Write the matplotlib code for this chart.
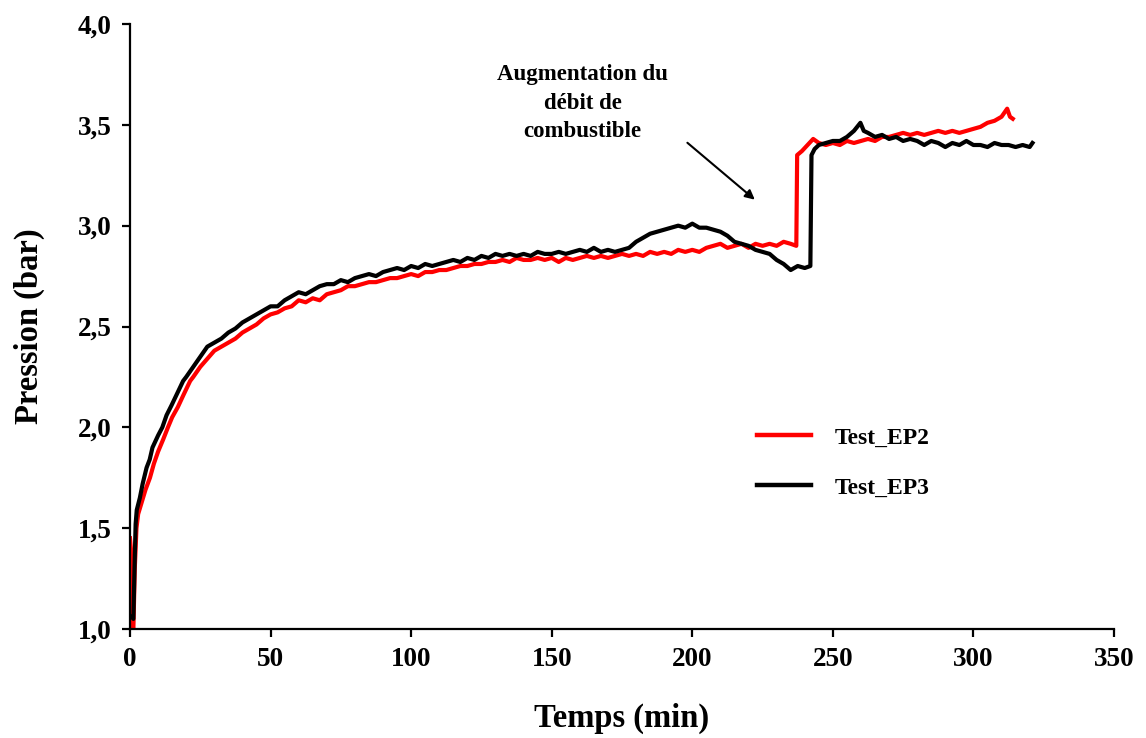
import matplotlib
matplotlib.use("Agg")
import matplotlib.pyplot as plt

# ---- Data ----
t_ep2 = [0.0, 0.3, 0.6, 1.2, 1.7, 2.3, 2.9, 4.0, 5.5, 7.1, 8.5, 10.0, 11.8, 13.5, 15.0, 17.0, 19.0, 21.4,
         22.5, 25.0, 27.5, 30.0, 32.5, 35.0, 37.5, 40.0, 42.5, 45.0, 47.5, 50.0, 52.5, 55.0, 57.5, 60.0,
         62.5, 65.0, 67.5, 70.0, 72.5, 75.0, 77.5, 80.0, 82.5, 85.0, 87.5, 90.0, 92.5, 95.0, 97.5, 100.0,
         102.5, 105.0, 107.5, 110.0, 112.5, 115.0, 117.5, 120.0, 122.5, 125.0, 127.5, 130.0, 132.5, 135.0,
         137.5, 140.0, 142.5, 145.0, 147.5, 150.0, 152.5, 155.0, 157.5, 160.0, 162.5, 165.0, 167.5, 170.0,
         172.5, 175.0, 177.5, 180.0, 182.5, 185.0, 187.5, 190.0, 192.5, 195.0, 197.5, 200.0, 202.5, 205.0,
         207.5, 210.0, 212.5, 215.0, 217.5, 220.0, 222.5, 225.0, 227.5, 230.0, 232.5, 235.0, 237.0, 237.3,
         239.0, 241.0, 243.0, 245.0, 247.5, 250.0, 252.5, 255.0, 257.5, 260.0, 262.5, 265.0, 267.5, 270.0,
         272.5, 275.0, 277.5, 280.0, 282.5, 285.0, 287.5, 290.0, 292.5, 295.0, 297.5, 300.0, 302.5, 305.0,
         307.5, 310.0, 311.0, 312.0, 313.0, 314.0]
p_ep2 = [1.45, 1.40, 1.02, 1.00, 1.30, 1.50, 1.57, 1.62, 1.69, 1.75, 1.82, 1.88, 1.94, 2.00, 2.05, 2.10, 2.16, 2.23,
         2.25, 2.30, 2.34, 2.38, 2.40, 2.42, 2.44, 2.47, 2.49, 2.51, 2.54, 2.56, 2.57, 2.59, 2.60, 2.63,
         2.62, 2.64, 2.63, 2.66, 2.67, 2.68, 2.70, 2.70, 2.71, 2.72, 2.72, 2.73, 2.74, 2.74, 2.75, 2.76,
         2.75, 2.77, 2.77, 2.78, 2.78, 2.79, 2.80, 2.80, 2.81, 2.81, 2.82, 2.82, 2.83, 2.82,
         2.84, 2.83, 2.83, 2.84, 2.83, 2.84, 2.82, 2.84, 2.83, 2.84, 2.85, 2.84, 2.85, 2.84,
         2.85, 2.86, 2.85, 2.86, 2.85, 2.87, 2.86, 2.87, 2.86, 2.88, 2.87, 2.88, 2.87, 2.89,
         2.90, 2.91, 2.89, 2.90, 2.91, 2.89, 2.91, 2.90, 2.91, 2.90, 2.92, 2.91, 2.90, 3.35,
         3.37, 3.40, 3.43, 3.41, 3.40, 3.41, 3.40, 3.42, 3.41, 3.42, 3.43, 3.42, 3.44, 3.44,
         3.45, 3.46, 3.45, 3.46, 3.45, 3.46, 3.47, 3.46, 3.47, 3.46, 3.47, 3.48, 3.49, 3.51,
         3.52, 3.54, 3.56, 3.58, 3.54, 3.53]

t_ep3 = [0.7, 1.2, 1.6, 2.0, 2.4, 3.5, 4.5, 5.9, 7.0, 8.0, 9.0, 10.0, 11.5, 13.0, 14.8, 16.5, 18.9, 20.0,
         22.5, 25.0, 27.5, 30.0, 32.5, 35.0, 37.5, 40.0, 42.5, 45.0, 47.5, 50.0, 52.5, 55.0, 57.5, 60.0,
         62.5, 65.0, 67.5, 70.0, 72.5, 75.0, 77.5, 80.0, 82.5, 85.0, 87.5, 90.0, 92.5, 95.0, 97.5, 100.0,
         102.5, 105.0, 107.5, 110.0, 112.5, 115.0, 117.5, 120.0, 122.5, 125.0, 127.5, 130.0, 132.5, 135.0,
         137.5, 140.0, 142.5, 145.0, 147.5, 150.0, 152.5, 155.0, 157.5, 160.0, 162.5, 165.0, 167.5, 170.0,
         172.5, 175.0, 177.5, 180.0, 182.5, 185.0, 187.5, 190.0, 192.5, 195.0, 197.5, 200.0, 202.5, 205.0,
         207.5, 210.0, 212.5, 215.0, 217.5, 220.0, 222.5, 225.0, 227.5, 230.0, 232.5, 235.0, 237.5, 240.0,
         242.0, 242.4, 243.5, 245.0, 247.5, 250.0, 252.5, 255.0, 257.5, 259.8, 261.0, 262.5, 265.0, 267.5,
         270.0, 272.5, 275.0, 277.5, 280.0, 282.5, 285.0, 287.5, 290.0, 292.5, 295.0, 297.5, 300.0, 302.5,
         305.0, 307.5, 310.0, 312.5, 315.0, 317.5, 320.0, 321.0]
p_ep3 = [1.06, 1.05, 1.30, 1.52, 1.59, 1.65, 1.72, 1.80, 1.84, 1.90, 1.93, 1.96, 2.00, 2.06, 2.11, 2.16, 2.23, 2.25,
         2.30, 2.35, 2.40, 2.42, 2.44, 2.47, 2.49, 2.52, 2.54, 2.56, 2.58, 2.60, 2.60, 2.63, 2.65, 2.67,
         2.66, 2.68, 2.70, 2.71, 2.71, 2.73, 2.72, 2.74, 2.75, 2.76, 2.75, 2.77, 2.78, 2.79, 2.78, 2.80,
         2.79, 2.81, 2.80, 2.81, 2.82, 2.83, 2.82, 2.84, 2.83, 2.85, 2.84, 2.86, 2.85, 2.86,
         2.85, 2.86, 2.85, 2.87, 2.86, 2.86, 2.87, 2.86, 2.87, 2.88, 2.87, 2.89, 2.87, 2.88,
         2.87, 2.88, 2.89, 2.92, 2.94, 2.96, 2.97, 2.98, 2.99, 3.00, 2.99, 3.01, 2.99, 2.99,
         2.98, 2.97, 2.95, 2.92, 2.91, 2.90, 2.88, 2.87, 2.86, 2.83, 2.81, 2.78, 2.80, 2.79,
         2.80, 3.35, 3.38, 3.40, 3.41, 3.42, 3.42, 3.44, 3.47, 3.51, 3.47, 3.46, 3.44, 3.45,
         3.43, 3.44, 3.42, 3.43, 3.42, 3.40, 3.42, 3.41, 3.39, 3.41, 3.40, 3.42, 3.40, 3.40,
         3.39, 3.41, 3.40, 3.40, 3.39, 3.40, 3.39, 3.41]

series_labels = ["Test_EP2", "Test_EP3"]
x_ticks = [0, 50, 100, 150, 200, 250, 300, 350]
y_ticks = [1.0, 1.5, 2.0, 2.5, 3.0, 3.5, 4.0]
annotation_text = "Augmentation du\ndébit de\ncombustible"

# ---- Figure ----
plt.rcParams['font.family'] = ['Liberation Serif', 'DejaVu Serif']
plt.rcParams['font.weight'] = 'bold'

fig = plt.figure(figsize=(11.46, 7.38), dpi=100)
ax = fig.add_axes([130/1146, 1 - 629/738, (1114-130)/1146, (629-24)/738])

ax.plot(t_ep2, p_ep2, color='#ff0000', lw=3.0, label=series_labels[0])
ax.plot(t_ep3, p_ep3, color='#000000', lw=3.0, label=series_labels[1])

ax.set_xlim(0, 350)
ax.set_ylim(1.0, 4.0)
ax.set_xticks(x_ticks)
ax.set_yticks(y_ticks)
ax.set_xticklabels([str(v) for v in x_ticks], fontsize=19.5, fontweight='bold')
ax.set_yticklabels([f"{v:.1f}".replace('.', ',') for v in y_ticks], fontsize=19.5, fontweight='bold')

for s in ['top', 'right']:
    ax.spines[s].set_visible(False)
for s in ['left', 'bottom']:
    ax.spines[s].set_linewidth(1.6)
ax.tick_params(direction='out', length=6, width=1.6, pad=7)

ax.set_xlabel("Temps (min)", fontsize=23.5, fontweight='bold', labelpad=22)
ax.set_ylabel("Pression (bar)", fontsize=23.5, fontweight='bold', labelpad=24)

ax.text(161, 3.80, annotation_text, ha='center', va='top', fontsize=16.5,
        fontweight='bold', linespacing=1.45)
ax.annotate("", xy=(223, 3.12), xytext=(197.5, 3.42),
            arrowprops=dict(arrowstyle='-|>', color='black', lw=1.5, mutation_scale=14))

leg = ax.legend(loc='upper left', bbox_to_anchor=(757/1146, 1 - 427/738),
                bbox_transform=fig.transFigure, frameon=False, fontsize=17,
                handlelength=2.3, handletextpad=1.0, labelspacing=1.2,
                borderpad=0, borderaxespad=0)
for line in leg.get_lines():
    line.set_linewidth(3.2)

fig.savefig("out.png", dpi=100)
